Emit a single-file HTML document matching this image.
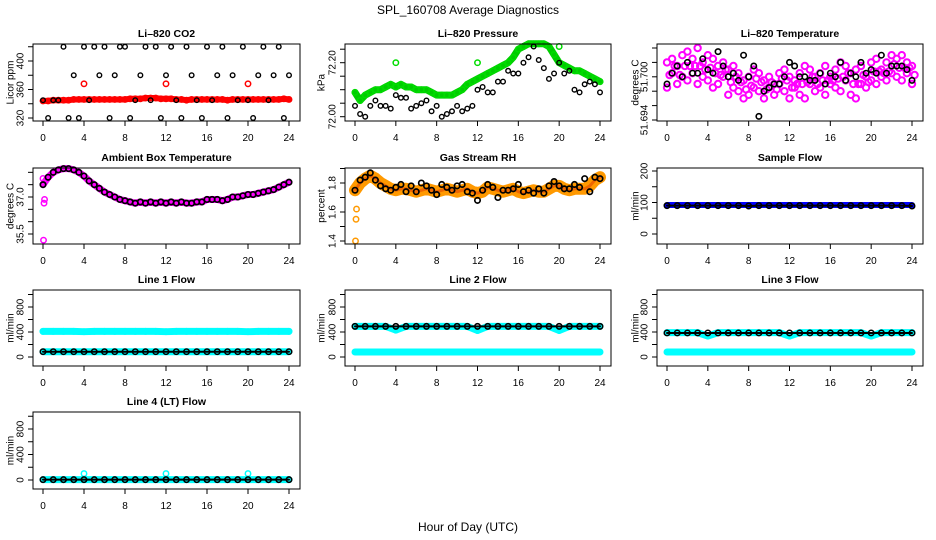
<!DOCTYPE html>
<html><head><meta charset="utf-8">
<style>
html,body{margin:0;padding:0;background:#fff;}
svg{display:block;font-family:"Liberation Sans",Arial,sans-serif;}
</style></head>
<body>
<svg id="chart" width="936" height="540" viewBox="0 0 936 540" xmlns="http://www.w3.org/2000/svg">
<rect width="936" height="540" fill="#fff"/>
<text x="468" y="14" text-anchor="middle" font-size="12">SPL_160708  Average Diagnostics</text>
<text x="468" y="531" text-anchor="middle" font-size="12">Hour of Day (UTC)</text>
</svg>
<script>
// ---- data (hours: 0..24 by 0.5 for dense series, 0..24 by 1 for flows) ----
const xTicks = [0,4,8,12,16,20,24];
const co2Red = [344,344,345,345,345,345,346,346,346,346,346,346,346,346,346,346,346,347,347,347,348,348,348,347,347,347,346,346,345,346,346,346,346,346,346,346,345,346,346,346,346,346,346,346,346,346,346,347,346];
const co2Black = [345,320,345,345,420,320,380,320,420,345,420,380,420,320,380,420,420,320,345,380,420,345,420,320,380,420,345,320,420,380,345,320,420,345,380,420,320,380,345,420,345,320,380,420,345,380,420,320,380];
const co2RedOutHours = [4,12,20];
const co2RedOut = [368,368,368];
const presGreen = [72.09,72.06,72.08,72.09,72.10,72.10,72.11,72.12,72.11,72.12,72.11,72.11,72.10,72.10,72.10,72.09,72.08,72.08,72.08,72.08,72.09,72.10,72.12,72.13,72.14,72.15,72.16,72.17,72.18,72.19,72.20,72.22,72.25,72.26,72.27,72.27,72.27,72.27,72.26,72.23,72.20,72.19,72.18,72.17,72.17,72.16,72.15,72.14,72.13];
const presBlack = [72.04,72.01,72.00,72.04,72.06,72.04,72.04,72.03,72.08,72.07,72.07,72.03,72.04,72.05,72.06,72.02,72.04,72.00,72.01,72.02,72.04,72.02,72.03,72.04,72.10,72.11,72.09,72.09,72.13,72.13,72.17,72.16,72.16,72.20,72.22,72.26,72.21,72.18,72.14,72.16,72.20,72.16,72.17,72.10,72.09,72.12,72.13,72.12,72.09];
const presGreenOutHours = [4,12,20];
const presGreenOut = [72.20,72.20,72.26];
const tempPinkA = [51.7020,51.7025,51.7015,51.7030,51.7035,51.7025,51.7040,51.7020,51.7030,51.7025,51.7015,51.7020,51.7010,51.7015,51.7005,51.6995,51.7000,51.7010,51.7005,51.6995,51.7000,51.6990,51.7005,51.7010,51.7000,51.6995,51.7005,51.7015,51.7010,51.7000,51.7005,51.7015,51.7000,51.7010,51.7020,51.7015,51.7005,51.7010,51.7015,51.7000,51.7020,51.7025,51.7010,51.7020,51.7030,51.7025,51.7030,51.7020,51.7015];
const tempPinkB = [51.6985,51.7005,51.6990,51.7000,51.6995,51.7005,51.6990,51.7000,51.6995,51.6985,51.6990,51.7000,51.6975,51.6985,51.6980,51.6970,51.6975,51.6985,51.6980,51.6970,51.6985,51.6975,51.6990,51.6980,51.6970,51.6985,51.6975,51.6970,51.6990,51.6980,51.6985,51.6975,51.6990,51.6985,51.6980,51.6995,51.6975,51.6970,51.6990,51.6985,51.6995,51.6990,51.7000,51.6995,51.7005,51.7000,51.6995,51.7005,51.6990];
const tempBlack = [51.699,51.7005,51.7015,51.700,51.702,51.7005,51.7005,51.7025,51.701,51.7005,51.7035,51.7015,51.700,51.7005,51.6995,51.703,51.700,51.7015,51.6945,51.698,51.6985,51.699,51.699,51.700,51.702,51.7015,51.7000,51.700,51.6995,51.6995,51.7005,51.699,51.7005,51.700,51.702,51.6995,51.7005,51.700,51.702,51.7005,51.701,51.7005,51.703,51.7005,51.7015,51.7015,51.7015,51.701,51.6995];
const ambient = [37.5,37.8,38.0,38.1,38.15,38.15,38.1,38.0,37.85,37.65,37.5,37.35,37.2,37.1,37.0,36.9,36.85,36.8,36.75,36.8,36.75,36.8,36.75,36.8,36.75,36.8,36.75,36.8,36.75,36.75,36.8,36.8,36.9,36.9,36.9,36.85,36.9,37.0,37.0,37.05,37.1,37.1,37.15,37.2,37.25,37.3,37.4,37.5,37.6];
const ambientOutHours = [0,0.1,0.15,0.05];
const ambientOut = [37.75,36.75,36.9,35.25];
const rhOrange = [1.75,1.80,1.83,1.85,1.83,1.80,1.78,1.76,1.75,1.76,1.76,1.75,1.74,1.75,1.76,1.75,1.74,1.75,1.76,1.75,1.74,1.75,1.76,1.74,1.73,1.74,1.77,1.76,1.75,1.74,1.75,1.76,1.74,1.73,1.74,1.75,1.74,1.74,1.76,1.78,1.78,1.76,1.75,1.76,1.76,1.76,1.78,1.82,1.84];
const rhBlack = [1.75,1.82,1.84,1.87,1.82,1.78,1.76,1.75,1.77,1.79,1.74,1.78,1.74,1.80,1.78,1.75,1.72,1.79,1.77,1.75,1.78,1.79,1.74,1.73,1.68,1.75,1.79,1.77,1.70,1.75,1.75,1.76,1.79,1.74,1.75,1.73,1.76,1.73,1.78,1.81,1.78,1.76,1.76,1.79,1.77,1.83,1.74,1.84,1.83];
const rhOutHours = [0.05,0.1,0.15];
const rhOut = [1.40,1.55,1.62];
const sampleBlue = [92,92,92,92,92,92,92,92,92,92,92,92,92,92,92,92,92,92,92,92,92,92,92,92,92];
const sampleBlack = [90,90,90,90,90,90,90,90,89,90,90,90,90,90,90,90,90,90,90,90,90,90,90,90,89];
const line1Cyan = [410,410,410,410,405,410,410,410,410,410,410,410,405,410,410,410,410,410,410,410,405,410,410,410,410];
const line1Black = [85,85,85,85,85,85,85,85,85,85,85,85,85,85,85,85,85,85,85,85,85,85,85,85,85];
const line2CyanHi = [490,490,490,490,430,490,490,490,490,490,490,490,425,490,490,490,490,490,490,490,425,490,490,490,490];
const line2CyanLo = [80,80,80,80,80,80,80,80,80,80,80,80,80,80,80,80,80,80,80,80,80,80,80,80,80];
const line2Black = [490,490,490,490,490,490,490,490,490,490,490,490,490,490,490,490,490,490,490,490,490,490,490,490,490];
const line3CyanHi = [390,390,390,390,335,390,390,390,390,390,390,390,335,390,390,390,390,390,390,390,335,390,390,390,390];
const line3CyanLo = [80,80,80,80,80,80,80,80,80,80,80,80,80,80,80,80,80,80,80,80,80,80,80,80,80];
const line3Black = [385,385,385,385,385,385,385,385,385,385,385,385,385,385,385,385,385,385,385,385,385,385,385,385,385];
const line4Cyan = [5,5,5,5,100,5,5,5,5,5,5,5,100,5,5,5,5,5,5,5,100,5,5,5,5];
const line4Black = [5,5,5,5,5,5,5,5,5,5,5,5,5,5,5,5,5,5,5,5,5,5,5,5,5];

const NS = "http://www.w3.org/2000/svg";
const svg = document.getElementById('chart');
const halfHours = co2Red.map((_, i) => i * 0.5);
const hours = sampleBlue.map((_, i) => i);
const cols = [{x0:43,x24:289,L:33,R:300,yl:10},{x0:355,x24:600,L:345,R:611,yl:321},{x0:667,x24:912,L:657,R:923,yl:635}];
const rows = [{T:44,B:121},{T:168,B:244},{T:290,B:366},{T:412,B:489}];

function mk(tag, attrs, parent){
  const e = document.createElementNS(NS, tag);
  for (const k in attrs) e.setAttribute(k, attrs[k]);
  (parent || svg).appendChild(e);
  return e;
}

function panel(name, title, ylab, r, c, v1, p1, v2, p2, ticks, labels, dec){
  const col = cols[c], row = rows[r];
  const g = mk('g', {});
  
  
  const xs = h => col.x0 + (col.x24 - col.x0) * h / 24;
  const ys = v => p1 + (v - v1) * (p2 - p1) / (v2 - v1);
  const t = mk('text', {x:(col.L+col.R)/2, y:row.T-7, 'text-anchor':'middle', 'font-size':10.5, 'font-weight':'bold'}, g);
  t.textContent = title;
  
  
  const yl = mk('text', {x:col.yl, y:(row.T+row.B)/2, 'text-anchor':'middle', 'font-size':10, transform:`rotate(-90 ${col.yl} ${(row.T+row.B)/2})`, dy:'0.35em'}, g);
  yl.textContent = ylab;
  
  
  const plot = mk('g', {}, g);
  
  
  const box = mk('rect', {x:col.L, y:row.T, width:col.R-col.L, height:row.B-row.T, fill:'none', stroke:'#000', 'stroke-width':1}, g);
  
  
  xTicks.forEach(h => {
    mk('line', {x1:xs(h), x2:xs(h), y1:row.B, y2:row.B+5, stroke:'#000'}, g);
    const tx = mk('text', {x:xs(h), y:row.B+20, 'text-anchor':'middle', 'font-size':10}, g);
    tx.textContent = h;
    
    
  });
  ticks.forEach(v => mk('line', {x1:col.L-5, x2:col.L, y1:ys(v), y2:ys(v), stroke:'#000'}, g));
  labels.forEach(v => {
    const yy = ys(v), xx = col.L - 13;
    const ty = mk('text', {x:xx, y:yy, 'text-anchor':'middle', 'font-size':10, dy:'0.35em', transform:`rotate(-90 ${xx} ${yy})`}, g);
    ty.textContent = v.toFixed(dec);
    
    
  });
  return {xs, ys, g: plot};
}

function band(p, xv, yv, color, w, name){
  const pl = mk('polyline', {points: xv.map((h,i)=>p.xs(h)+','+p.ys(yv[i])).join(' '), fill:'none', stroke:color, 'stroke-width':w, 'stroke-linejoin':'round', 'stroke-linecap':'round'}, p.g);
  
  
}
function pts(p, xv, yv, color, name, rr, sw){
  yv.forEach((v,i) => {
    const c = mk('circle', {cx:p.xs(xv[i]), cy:p.ys(v), r:rr||2.7, fill:'none', stroke:color, 'stroke-width':sw||1.5}, p.g);
    
    
  });
}

// Row 1
let p = panel('co2', 'Li–820 CO2', 'Licor ppm', 0, 0, 320, 118, 400, 61, [320,340,360,380,400,420], [320,360,400], 0);
band(p, halfHours, co2Red, '#f00', 6, 'co2-red-band');
pts(p, halfHours, co2Red, '#f00', 'co2-red-point');
pts(p, co2RedOutHours, co2RedOut, '#f00', 'co2-red-outlier');
pts(p, halfHours, co2Black, '#000', 'co2-black-point', 2.3, 1.4);

p = panel('pressure', 'Li–820 Pressure', 'kPa', 0, 1, 72.00, 116.7, 72.20, 62.7, [72.00,72.05,72.10,72.15,72.20,72.25], [72.00,72.20], 2);
band(p, halfHours, presGreen, '#0c0', 7, 'pressure-green-band');
pts(p, halfHours, presGreen, '#0d0', 'pressure-green-point');
pts(p, presGreenOutHours, presGreenOut, '#0d0', 'pressure-green-outlier');
pts(p, halfHours, presBlack, '#000', 'pressure-black-point', 2.3, 1.4);

p = panel('temperature', 'Li–820 Temperature', 'degrees C', 0, 2, 51.694, 120, 51.704, 48, [51.694,51.696,51.698,51.700,51.702,51.704], [51.694,51.700], 3);
pts(p, halfHours, tempPinkB, '#f0f', 'temperature-pink-point', 3.2, 2);
pts(p, halfHours, tempPinkA, '#f0f', 'temperature-pink-point', 3.2, 2);
pts(p, halfHours.map(h=>h+0.25), tempPinkA.map((v,i)=>(v+tempPinkB[i])/2), '#f0f', 'temperature-pink-point', 3.2, 2);
pts(p, halfHours, tempBlack, '#000', 'temperature-black-point', 2.7, 1.6);

// Row 2
p = panel('ambient', 'Ambient Box Temperature', 'degrees C', 1, 0, 35.5, 234, 37.0, 197, [35.5,36.0,36.5,37.0,37.5,38.0], [35.5,37.0], 1);
band(p, halfHours, ambient, '#f0f', 7, 'ambient-magenta-band');
pts(p, ambientOutHours, ambientOut, '#f0f', 'ambient-magenta-outlier');
pts(p, halfHours, ambient, '#000', 'ambient-black-point', 2.7, 1.7);

p = panel('rh', 'Gas Stream RH', 'percent', 1, 1, 1.4, 241, 1.8, 183, [1.4,1.5,1.6,1.7,1.8,1.9], [1.4,1.6,1.8], 1);
band(p, halfHours, rhOrange, '#f90', 12, 'rh-orange-band');
band(p, halfHours, rhOrange, '#e60', 3, 'rh-orange-core');
pts(p, rhOutHours, rhOut, '#f90', 'rh-orange-outlier');
pts(p, halfHours, rhBlack, '#000', 'rh-black-point', 2.7, 1.7);

p = panel('sample-flow', 'Sample Flow', 'ml/min', 1, 2, 0, 234, 200, 171, [0,50,100,150,200], [0,100,200], 0);
band(p, hours, sampleBlue, '#00f', 6, 'sample-blue-band');
band(p, hours, sampleBlack, '#000', 2, 'sample-black-line');
pts(p, hours, sampleBlack, '#000', 'sample-black-point', 2.7, 1.6);

// Row 3 & 4 flows
const fT = [0,200,400,600,800,1000], fL = [0,400,800];
p = panel('line1', 'Line 1 Flow', 'ml/min', 2, 0, 0, 357, 800, 307, fT, fL, 0);
band(p, hours, line1Cyan, '#0ff', 7, 'line1-cyan-band');
pts(p, hours, line1Cyan, '#0ff', 'line1-cyan-point');
band(p, hours, line1Black, '#0ff', 7, 'line1-cyan-low-band');
band(p, hours, line1Black, '#000', 2, 'line1-black-line');
pts(p, hours, line1Black, '#000', 'line1-black-point', 2.7, 1.6);

p = panel('line2', 'Line 2 Flow', 'ml/min', 2, 1, 0, 357, 800, 307, fT, fL, 0);
band(p, hours, line2CyanLo, '#0ff', 7, 'line2-cyan-low-band');
band(p, hours, line2CyanHi, '#0ff', 7, 'line2-cyan-band');
pts(p, hours, line2CyanHi, '#0ff', 'line2-cyan-point');
band(p, hours, line2Black, '#000', 2, 'line2-black-line');
pts(p, hours, line2Black, '#000', 'line2-black-point', 2.7, 1.6);

p = panel('line3', 'Line 3 Flow', 'ml/min', 2, 2, 0, 357, 800, 307, fT, fL, 0);
band(p, hours, line3CyanLo, '#0ff', 7, 'line3-cyan-low-band');
band(p, hours, line3CyanHi, '#0ff', 7, 'line3-cyan-band');
pts(p, hours, line3CyanHi, '#0ff', 'line3-cyan-point');
band(p, hours, line3Black, '#000', 2, 'line3-black-line');
pts(p, hours, line3Black, '#000', 'line3-black-point', 2.7, 1.6);

p = panel('line4', 'Line 4 (LT) Flow', 'ml/min', 3, 0, 0, 480, 800, 429, fT, fL, 0);
band(p, hours, line4Black, '#0ff', 7, 'line4-cyan-band');
pts(p, hours, line4Cyan, '#0ff', 'line4-cyan-point');
band(p, hours, line4Black, '#000', 2, 'line4-black-line');
pts(p, hours, line4Black, '#000', 'line4-black-point', 2.7, 1.6);
</script>
</body></html>
